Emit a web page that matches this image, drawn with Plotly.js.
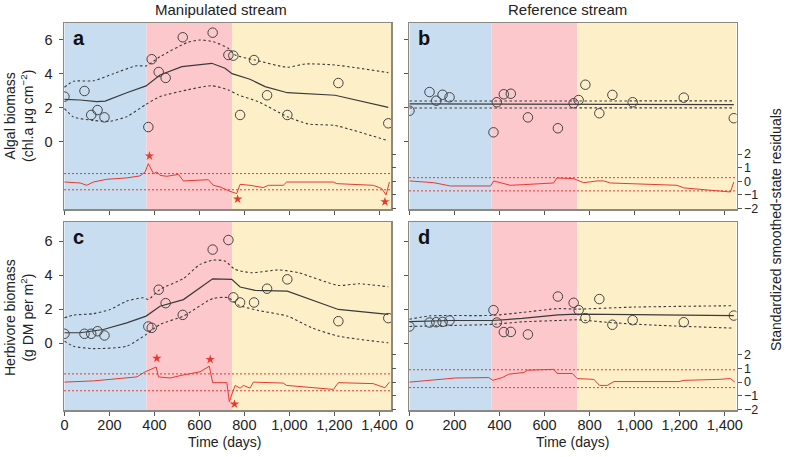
<!DOCTYPE html>
<html>
<head>
<meta charset="utf-8">
<script src="https://cdn.plot.ly/plotly-3.0.1.min.js"></script>
<style>html,body{margin:0;padding:0;background:#fff}#chart{width:786px;height:457px}</style>
</head>
<body>
<div id="chart"></div>
<script>
// ---------------- DATA ----------------
const days = [0, 89, 119, 147, 178, 373, 388, 419, 450, 526, 659, 729, 751, 781, 843, 901, 991, 1218, 1440];
const algalManip = [2.65, 2.98, 1.57, 1.86, 1.43, 0.86, 4.85, 4.10, 3.75, 6.14, 6.41, 5.10, 5.06, 1.57, 4.80, 2.73, 1.57, 3.45, 1.08];
const algalRef   = [1.82, 2.92, 2.41, 2.76, 2.61, 0.55, 2.32, 2.79, 2.82, 1.43, 0.79, 2.26, 2.45, 3.35, 1.67, 2.75, 2.32, 2.59, 1.38];
const herbManip  = [0.55, 0.55, 0.55, 0.70, 0.45, 0.98, 0.90, 3.14, 2.35, 1.66, 5.50, 6.06, 2.69, 2.39, 2.39, 3.20, 3.75, 1.29, 1.47];
const herbRef    = [0.98, 1.21, 1.23, 1.25, 1.33, 1.94, 1.21, 0.65, 0.66, 0.51, 2.74, 2.37, 1.94, 1.47, 2.59, 1.08, 1.35, 1.23, 1.62];

// smoothed state (mean) and confidence bounds
const aMeanX = [0, 70, 144, 181, 277, 363, 425, 522, 655, 714, 745, 781, 825, 892, 991, 1203, 1440];
const aMean  = [2.49, 2.45, 2.35, 2.39, 2.88, 3.28, 3.92, 4.41, 4.61, 4.32, 4.0, 3.86, 3.67, 3.24, 2.88, 2.73, 2.02];
const aUpX   = [0, 40, 129, 218, 322, 363, 425, 544, 603, 662, 729, 759, 848, 991, 1070, 1203, 1440];
const aUp    = [3.2, 3.55, 3.58, 4.0, 4.47, 4.45, 5.0, 5.82, 5.98, 5.88, 5.49, 5.1, 4.8, 4.38, 4.57, 4.51, 4.06];
const aLoX   = [0, 40, 129, 203, 277, 363, 425, 544, 655, 729, 773, 862, 991, 1084, 1203, 1440];
const aLo    = [1.95, 1.45, 1.25, 1.2, 1.47, 2.2, 2.65, 3.04, 3.29, 3.04, 2.75, 2.35, 1.47, 1.04, 0.95, 0.05];

const bMeanX = [0, 1440];
const bMean  = [2.22, 2.18];
const bUpX   = [0, 1440];
const bUp    = [2.39, 2.40];
const bLoX   = [0, 1440];
const bLo    = [1.98, 1.99];

const cMeanX = [0, 70, 173, 277, 363, 425, 529, 659, 744, 781, 848, 991, 1218, 1440];
const cMean  = [0.61, 0.61, 0.8, 1.19, 1.59, 2.17, 2.56, 3.78, 3.75, 3.3, 3.1, 3.06, 1.98, 1.69];
const cUpX   = [0, 40, 129, 203, 277, 351, 373, 425, 529, 603, 662, 714, 759, 833, 951, 1040, 1218, 1307, 1440];
const cUp    = [1.49, 1.65, 1.73, 1.98, 2.47, 2.67, 2.57, 3.16, 3.8, 4.63, 4.88, 4.82, 4.33, 4.14, 4.3, 4.14, 3.39, 3.49, 3.31];
const cLoX   = [0, 40, 129, 277, 363, 425, 529, 659, 729, 773, 862, 991, 1100, 1218, 1440];
const cLo    = [0.12, -0.18, -0.32, -0.18, 0.51, 1.1, 1.59, 2.62, 2.67, 2.24, 1.92, 1.59, 0.9, 0.41, 0.02];

const dMeanX = [0, 180, 365, 500, 660, 745, 1000, 1440];
const dMean  = [1.27, 1.33, 1.33, 1.45, 1.66, 1.7, 1.68, 1.62];
const dUpX   = [0, 90, 365, 500, 660, 745, 1000, 1440];
const dUp    = [1.4, 1.6, 1.63, 1.8, 2.03, 2.0, 2.12, 2.2];
const dLoX   = [0, 200, 365, 500, 660, 745, 900, 1100, 1440];
const dLo    = [0.98, 1.04, 1.1, 1.25, 1.33, 1.37, 1.2, 1.05, 0.88];

// standardized smoothed-state residuals
const aResX = [0, 70, 99, 129, 188, 277, 336, 359, 373, 396, 411, 425, 455, 507, 529, 640, 662, 692, 736, 766, 781, 825, 884, 907, 973, 988, 1196, 1211, 1373, 1411, 1430, 1445];
const aRes  = [-0.05, -0.12, -0.29, -0.05, 0.15, 0.25, 0.4, 0.69, 1.3, 0.56, 0.69, 0.44, 0.37, 0.51, 0.03, 0.12, -0.29, -0.41, -0.73, -0.9, -0.22, -0.29, -0.46, -0.29, -0.29, -0.05, -0.05, -0.17, -0.29, -0.53, -1.0, -0.05];
const bResX = [0, 108, 182, 360, 374, 404, 448, 507, 640, 655, 729, 773, 833, 862, 892, 1188, 1218, 1425, 1440];
const bRes  = [0.03, -0.1, -0.34, -0.34, 0.03, -0.1, -0.29, -0.24, -0.12, 0.25, 0.2, -0.1, 0.03, 0.03, -0.12, -0.29, -0.48, -0.78, -0.05];
const cResX = [0, 129, 203, 322, 359, 408, 418, 470, 522, 603, 644, 659, 722, 733, 748, 759, 781, 796, 825, 840, 973, 988, 1196, 1218, 1373, 1425, 1445];
const cRes  = [0, 0.09, 0.2, 0.38, 0.75, 1.1, 0.38, 0.3, 0.5, 0.75, 1.16, -0.04, -0.04, -1.42, -0.73, -0.24, -0.44, -0.24, -0.44, 0, -0.07, -0.24, -0.53, -0.04, -0.11, -0.41, 0];
const dResX = [0, 70, 204, 352, 370, 412, 441, 508, 523, 641, 656, 723, 745, 819, 844, 878, 908, 1197, 1219, 1374, 1425, 1445];
const dRes  = [0, 0.09, 0.3, 0.33, 0.13, 0.33, 0.58, 0.7, 0.87, 0.93, 0.63, 0.63, 0.26, 0.2, -0.24, -0.24, 0.04, 0.04, 0.13, 0.2, 0.26, 0];

// significant residuals (stars)
const aStarX = [378, 770, 1425];
const aStarY = [1.86, -1.3, -1.5];
const cStarX = [411, 648, 756];
const cStarY = [1.73, 1.65, -1.6];

// residual thresholds (upper, lower)
const aBand = [0.57, -0.62];
const bBand = [0.27, -0.7];
const cBand = [0.6, -0.63];
const dBand = [0.9, -0.4];

// experimental periods
const periodStart = [0, 365, 745];
const periodEnd   = [365, 745, 1460];

const xTickVals = [0, 200, 400, 600, 800, 1000, 1200, 1400];
const xTickLabels = ['0', '200', '400', '600', '800', '1,000', '1,200', '1,400'];
const yTickVals = [0, 2, 4, 6];
const rTickVals = [-2, -1, 0, 1, 2];
const rTickLabels = ['\u22122', '\u22121', '0', '1', '2'];

const columnTitles = ['Manipulated stream', 'Reference stream'];
const panelLetters = ['a', 'b', 'c', 'd'];
const xTitle = 'Time (days)';
const yTitles = ['Algal biomass<br>(chl.a \u03bcg cm<sup>\u22122</sup>)', 'Herbivore biomass<br>(g DM per m<sup>2</sup>)'];
const rightTitle = 'Standardized smoothed-state residuals';

// ---------------- STYLE / LAYOUT ----------------
const W = 786, H = 457;
const FONT = 'Liberation Sans, Arial, Helvetica, sans-serif';
const periodColors = ['#c8def0', '#fcc8cb', '#fdf0c9'];
const frameColor = '#8a8a80';
const red = '#e8392f';
const dark = '#3a3a3a';
const xRange = [-2, 1452];

const px = v => v / W;
const py = v => (H - v) / H;

const panels = [
  {obs: algalManip, mx: aMeanX, m: aMean, ux: aUpX, u: aUp, lx: aLoX, l: aLo, rx: aResX, r: aRes, sx: aStarX, sy: aStarY, band: aBand,
   left: 64, right: 391, top: 23, bottom: 209, yr: [-3.96, 6.98], rr: [-2.03, 11.62], showX: false, showY: true, showR: false, titleX: 224},
  {obs: algalRef, mx: bMeanX, m: bMean, ux: bUpX, u: bUp, lx: bLoX, l: bLo, rx: bResX, r: bRes, sx: [], sy: [], band: bBand,
   left: 409, right: 736.5, top: 23, bottom: 209, yr: [-3.96, 6.98], rr: [-2.03, 11.62], showX: false, showY: false, showR: true, titleX: 572},
  {obs: herbManip, mx: cMeanX, m: cMean, ux: cUpX, u: cUp, lx: cLoX, l: cLo, rx: cResX, r: cRes, sx: cStarX, sy: cStarY, band: cBand,
   left: 64, right: 391, top: 222, bottom: 410, yr: [-3.93, 7.12], rr: [-2.03, 11.66], showX: true, showY: true, showR: false, titleX: 224},
  {obs: herbRef, mx: dMeanX, m: dMean, ux: dUpX, u: dUp, lx: dLoX, l: dLo, rx: dResX, r: dRes, sx: [], sy: [], band: dBand,
   left: 409, right: 736.5, top: 222, bottom: 410, yr: [-3.93, 7.12], rr: [-2.03, 11.66], showX: true, showY: false, showR: true, titleX: 572}
];

const traces = [];
const layout = {
  width: W, height: H,
  margin: {l: 0, r: 0, t: 0, b: 0, pad: 0},
  paper_bgcolor: '#fff', plot_bgcolor: 'rgba(0,0,0,0)',
  showlegend: false,
  font: {family: FONT, size: 14, color: '#222'},
  shapes: [], annotations: []
};

const tickFont = {family: FONT, size: 14.5, color: '#222'};
const rTickFont = {family: FONT, size: 12.5, color: '#222'};

panels.forEach((p, i) => {
  const n = i + 1;
  const xa = i === 0 ? 'x' : 'x' + n;
  const yl = i === 0 ? 'y' : 'y' + (2 * i + 1);
  const yrName = 'y' + (2 * i + 2);
  const xKey = i === 0 ? 'xaxis' : 'xaxis' + n;
  const ylKey = i === 0 ? 'yaxis' : 'yaxis' + (2 * i + 1);
  const yrKey = 'yaxis' + (2 * i + 2);

  layout[xKey] = {
    domain: [px(p.left), px(p.right)], anchor: yl, range: xRange,
    tickvals: xTickVals, ticktext: xTickLabels, showticklabels: p.showX,
    ticks: 'outside', ticklen: 4, tickwidth: 1, tickcolor: '#555', ticklabelstandoff: -3,
    showline: true, mirror: true, linecolor: frameColor, linewidth: 1.5,
    showgrid: false, zeroline: false, tickfont: tickFont, fixedrange: true
  };
  layout[ylKey] = {
    domain: [py(p.bottom), py(p.top)], anchor: xa, range: p.yr,
    tickvals: yTickVals, showticklabels: p.showY,
    ticks: 'outside', ticklen: 4, tickwidth: 1, tickcolor: '#555', ticklabelstandoff: 3,
    showline: true, mirror: true, linecolor: frameColor, linewidth: 1.5,
    showgrid: false, zeroline: false, tickfont: tickFont, fixedrange: true
  };
  layout[yrKey] = {
    overlaying: yl, anchor: xa, side: 'right', range: p.rr,
    tickvals: rTickVals, ticktext: rTickLabels, showticklabels: p.showR,
    ticks: 'outside', ticklen: 4, tickwidth: 1, tickcolor: '#555',
    showline: false, showgrid: false, zeroline: false, tickfont: rTickFont, fixedrange: true
  };

  // period backgrounds
  periodStart.forEach((s, k) => {
    layout.shapes.push({type: 'rect', xref: xa, yref: yl + ' domain', x0: Math.max(s, xRange[0]), x1: Math.min(periodEnd[k], xRange[1]),
      y0: 0, y1: 1, fillcolor: periodColors[k], line: {width: 0}, layer: 'below'});
  });
  // residual thresholds
  p.band.forEach(b => {
    layout.shapes.push({type: 'line', xref: xa + ' domain', yref: yrName, x0: 0, x1: 1, y0: b, y1: b,
      line: {color: red, width: 1, dash: '2px,2px'}, layer: 'above'});
  });

  const dashStyle = {color: dark, width: 1.1, dash: '2.5px,2.5px'};
  traces.push({x: p.ux, y: p.u, xaxis: xa, yaxis: yl, mode: 'lines', line: Object.assign({shape: 'spline', smoothing: 0.6}, dashStyle), hoverinfo: 'skip'});
  traces.push({x: p.lx, y: p.l, xaxis: xa, yaxis: yl, mode: 'lines', line: Object.assign({shape: 'spline', smoothing: 0.6}, dashStyle), hoverinfo: 'skip'});
  traces.push({x: p.mx, y: p.m, xaxis: xa, yaxis: yl, mode: 'lines', line: {color: dark, width: 1.2}, hoverinfo: 'skip'});
  traces.push({x: p.rx, y: p.r, xaxis: xa, yaxis: yrName, mode: 'lines', line: {color: red, width: 1}, hoverinfo: 'skip'});
  if (p.sx.length) {
    traces.push({x: p.sx, y: p.sy, xaxis: xa, yaxis: yrName, mode: 'markers',
      marker: {symbol: 'star', size: 7, color: red, line: {width: 0}}, hoverinfo: 'skip'});
  }
  traces.push({x: days, y: p.obs, xaxis: xa, yaxis: yl, mode: 'markers',
    marker: {symbol: 'circle-open', size: 9.5, color: '#444', line: {width: 1, color: '#444'}}, hoverinfo: 'skip'});

  // panel letters
  layout.annotations.push({xref: 'paper', yref: 'paper', x: px(p.left + 7), y: py(p.top + 15),
    xanchor: 'left', yanchor: 'middle', showarrow: false, text: '<b>' + panelLetters[i] + '</b>',
    font: {family: FONT, size: 20, color: '#111'}});
  // x-axis titles (bottom row)
  if (p.showX) {
    layout.annotations.push({xref: 'paper', yref: 'paper', x: px(p.titleX), y: py(442),
      xanchor: 'center', yanchor: 'middle', showarrow: false, text: xTitle,
      font: {family: FONT, size: 14, color: '#222'}});
  }
});

// column titles
layout.annotations.push({xref: 'paper', yref: 'paper', x: px(221), y: py(9), xanchor: 'center', yanchor: 'middle', showarrow: false,
  text: columnTitles[0], font: {family: FONT, size: 15, color: '#222'}});
layout.annotations.push({xref: 'paper', yref: 'paper', x: px(567), y: py(9), xanchor: 'center', yanchor: 'middle', showarrow: false,
  text: columnTitles[1], font: {family: FONT, size: 15, color: '#222'}});
// left titles
layout.annotations.push({xref: 'paper', yref: 'paper', x: px(19), y: py(116), xanchor: 'center', yanchor: 'middle', showarrow: false,
  textangle: -90, text: yTitles[0], font: {family: FONT, size: 14, color: '#222'}});
layout.annotations.push({xref: 'paper', yref: 'paper', x: px(19), y: py(318), xanchor: 'center', yanchor: 'middle', showarrow: false,
  textangle: -90, text: yTitles[1], font: {family: FONT, size: 14, color: '#222'}});
// right title
layout.annotations.push({xref: 'paper', yref: 'paper', x: px(776), y: py(230), xanchor: 'center', yanchor: 'middle', showarrow: false,
  textangle: -90, text: rightTitle, font: {family: FONT, size: 14, color: '#222'}});

Plotly.newPlot('chart', traces, layout, {staticPlot: true, displayModeBar: false});
</script>
</body>
</html>
